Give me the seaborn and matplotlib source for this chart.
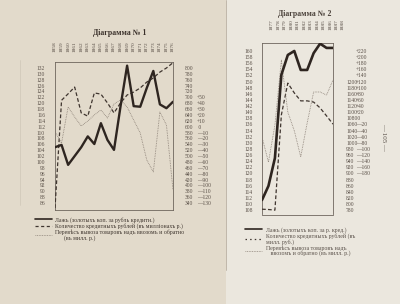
import numpy as np
import pandas as pd
import matplotlib
matplotlib.use("Agg")
import matplotlib.pyplot as plt
import matplotlib.transforms as mtransforms
from matplotlib.lines import Line2D
from matplotlib.patches import Rectangle
import seaborn as sns

# ---------------- data: Diagram No 1 ----------------
years1 = [1858, 1859, 1860, 1861, 1862, 1863, 1864, 1865, 1866, 1867,
          1868, 1869, 1870, 1871, 1872, 1873, 1874, 1875, 1876]
agio1 = [105.0, 105.8, 99.0, 102.0, 105.0, 108.7, 106.1, 113.2, 107.5, 104.1,
         119.0, 132.8, 119.0, 118.8, 125.2, 131.0, 119.6, 118.3, 120.5]
credit1 = [323, 690, 712, 735, 647, 636, 715, 711, 681, 647,
           681, 708, 718, 732, 752, 766, 786, 800, 818]
balance1 = [-8.5, -27.8, 33.6, 16.5, 1.2, 9.7, 20.0, 28.4, 14.8, 38.7,
            45.5, 33.6, 11.4, -10.7, -56.7, -77.0, 25.0, 2.9, -107.8]

agio1_ticks = list(range(86, 133, 2))
credit1_ticks = list(range(340, 801, 20))
balance1_ticks = list(range(-130, 51, 10))

# ---------------- data: Diagram No 2 ----------------
years2 = [1877, 1878, 1879, 1880, 1881, 1882, 1883, 1884, 1885, 1886, 1887, 1888]
agio2 = [111.3, 115.9, 125.0, 152.2, 158.7, 160.0, 153.8, 153.8, 159.3, 162.4, 161.0, 161.0]
credit2 = [783, 782, 780, 1091, 1195, 1163, 1137, 1137, 1133, 1114, 1088, 1061]
balance2 = [-61, -143, -22, 190, 20, -40, -126, -15, 86, 86, 76, 125]

agio2_ticks = list(range(108, 161, 2))
credit2_ticks = list(range(780, 1201, 20))
balance2_ticks = list(range(-180, 221, 20))

title1 = "Діаграмма № 1"
title2 = "Діаграмма № 2"
legend1 = ["Лажъ (золотыхъ коп. за рубль кредитн.)",
           "Количество кредитныхъ рублей (въ милліонахъ р.)",
           "Перевѣсъ вывоза товаровъ надъ ввозомъ и обратно\n      (въ милл. р.)"]
legend2 = ["Лажъ (золотыхъ коп. за р. кред.)",
           "Количество кредитныхъ рублей (въ\nмилл. руб.)",
           "Перевѣсъ вывоза товаровъ надъ\n   ввозомъ и обратно (въ милл. р.)"]
page_no = "— 105 —"

# ---------------- styling ----------------
sns.set_theme(style="white")
SERIF = ["Liberation Serif", "DejaVu Serif"]
plt.rcParams["font.family"] = SERIF

INK = "#2e2520"
INK2 = "#3f352f"
INK3 = "#877c72"
TXT = "#5a5048"
FRAME = "#6e655d"

W, H = 400, 304
fig = plt.figure(figsize=(W / 100, H / 100), dpi=100)
fig.patch.set_facecolor("#e6dfd1")
fig.add_artist(Rectangle((0, 0), 226 / W, 1, transform=fig.transFigure,
                         facecolor="#e2dacb", edgecolor="none", zorder=-10))
fig.add_artist(Rectangle((226 / W, 0), 1 - 226 / W, 1, transform=fig.transFigure,
                         facecolor="#ebe7de", edgecolor="none", zorder=-10))
fig.add_artist(Line2D([226 / W, 226 / W], [1 - 270 / H, 1], transform=fig.transFigure,
                      color="#b9b0a2", lw=0.6, zorder=-5))
fig.add_artist(Line2D([20 / W, 20 / W], [1 - 205 / H, 1 - 60 / H], transform=fig.transFigure,
                      color="#cfc7b8", lw=0.5, zorder=-5))


def fx(px):
    return px / W


def fy(py):
    return 1 - py / H


def sign_fmt(v):
    if v > 0:
        return f"+{v}"
    if v < 0:
        return f"—{abs(v)}"
    return " 0"


def panel(rect, years, agio, credit, balance, lims, ticks, pads, xlab_pad, xlab_shift,
          lw_main):
    left, top, right, bottom = rect
    ax = fig.add_axes([fx(left), fy(bottom), fx(right - left), (bottom - top) / H])
    axb = ax.twinx()
    axc = ax.twinx()
    axt = ax.twinx()
    x = list(range(len(years)))
    for a in (ax, axb, axc, axt):
        a.set_facecolor("none")
        a.grid(False)

    sns.lineplot(x=x, y=balance, ax=axc, color=INK3, lw=0.6,
                 linestyle=(0, (0.9, 1.1)), sort=False)
    sns.lineplot(x=x, y=credit, ax=axb, color=INK2, lw=0.9,
                 linestyle=(0, (3.0, 1.8)), sort=False)
    sns.lineplot(x=x, y=agio, ax=axt, color=INK, lw=lw_main, sort=False)

    ax.set_xlim(0, len(years) - 1)
    ax.set_ylim(*lims[0])
    axt.set_ylim(*lims[0])
    axb.set_ylim(*lims[1])
    axc.set_ylim(*lims[2])

    ax.set_yticks(ticks[0])
    ax.set_yticklabels([str(t) for t in ticks[0]])
    axb.set_yticks(ticks[1])
    axb.set_yticklabels([str(t) for t in ticks[1]])
    axc.set_yticks(ticks[2])
    axc.set_yticklabels([sign_fmt(t) for t in ticks[2]])
    axt.set_yticks([])
    ax.tick_params(axis="y", length=0, pad=pads[0], labelsize=4, labelcolor=TXT)
    axb.tick_params(axis="y", length=0, pad=pads[1], labelsize=4, labelcolor=TXT)
    axc.tick_params(axis="y", length=0, pad=pads[2], labelsize=4, labelcolor=TXT)

    ax.set_xticks(x)
    ax.set_xticklabels([str(y) for y in years], rotation=90)
    ax.tick_params(axis="x", length=0, pad=xlab_pad, labelsize=3.8, labelcolor=TXT,
                   top=False, bottom=False, labeltop=True, labelbottom=False)
    if xlab_shift:
        off = mtransforms.ScaledTranslation(xlab_shift / 100, 0, fig.dpi_scale_trans)
        for lab in ax.get_xticklabels():
            lab.set_transform(lab.get_transform() + off)
    for a in (axb, axc, axt):
        a.tick_params(axis="x", length=0, top=False, bottom=False,
                      labeltop=False, labelbottom=False)
    for a in (ax, axb, axc, axt):
        a.set_xlabel("")
        a.set_ylabel("")
    for s in ax.spines.values():
        s.set_visible(True)
        s.set_color(FRAME)
        s.set_linewidth(0.6)
    for a in (axb, axc, axt):
        for s in a.spines.values():
            s.set_visible(False)
    return ax, axb, axc, axt


# Diagram 1: box 55..173 x, 62..210 y (pixels)
ax1 = panel((55, 62, 173, 210), years1, agio1, credit1, balance1,
            [(83.62, 134.04), (316.2, 820.4), (-141.9, 110.2)],
            [agio1_ticks, credit1_ticks, balance1_ticks],
            (7.2, 8.6, 17.0), 7.4, 0, 1.7)

# Diagram 2: box 262..333 x, 43..214.5 y
ax2 = panel((262, 43, 333, 214.5), years2, agio2, credit2, balance2,
            [(106.57, 162.61), (765.7, 1326.1), (-314.3, 246.1)],
            [agio2_ticks, credit2_ticks, balance2_ticks],
            (6.5, 9.4, 16.5), 9.4, 10, 1.9)

fig.text(fx(120), fy(33), title1, ha="center", va="center", fontsize=5.6,
         fontweight="bold", color="#3a302a")
fig.text(fx(305), fy(14), title2, ha="center", va="center", fontsize=5.6,
         fontweight="bold", color="#4a413a")

h1 = [Line2D([], [], color=INK, lw=1.2),
      Line2D([], [], color=INK2, lw=0.9, linestyle=(0, (2.5, 2.0))),
      Line2D([], [], color=INK3, lw=0.6, linestyle=(0, (0.9, 1.1)))]
leg1 = fig.legend(h1, legend1, loc="upper left", bbox_to_anchor=(fx(35), fy(217)),
                  bbox_transform=fig.transFigure, frameon=False, fontsize=4.2,
                  handlelength=2.9, handletextpad=0.5, labelspacing=0.05,
                  borderpad=0, borderaxespad=0)
for t in leg1.get_texts():
    t.set_color("#3f362f")
    t.set_linespacing(1.0)

h2 = [Line2D([], [], color=INK, lw=1.2),
      Line2D([], [], color=INK2, lw=0.9, linestyle=(0, (1.2, 2.5))),
      Line2D([], [], color=INK3, lw=0.6, linestyle=(0, (0.9, 1.1)))]
leg2 = fig.legend(h2, legend2, loc="upper left", bbox_to_anchor=(fx(245), fy(227)),
                  bbox_transform=fig.transFigure, frameon=False, fontsize=4.2,
                  handlelength=2.9, handletextpad=0.7, labelspacing=0.05,
                  borderpad=0, borderaxespad=0)
for t in leg2.get_texts():
    t.set_color("#5a514a")
    t.set_linespacing(1.0)

fig.text(fx(384), fy(137), page_no, rotation=-90, ha="center", va="center",
         fontsize=5, color="#5a514a")

fig.savefig("out.png", dpi=100, facecolor=fig.get_facecolor())
